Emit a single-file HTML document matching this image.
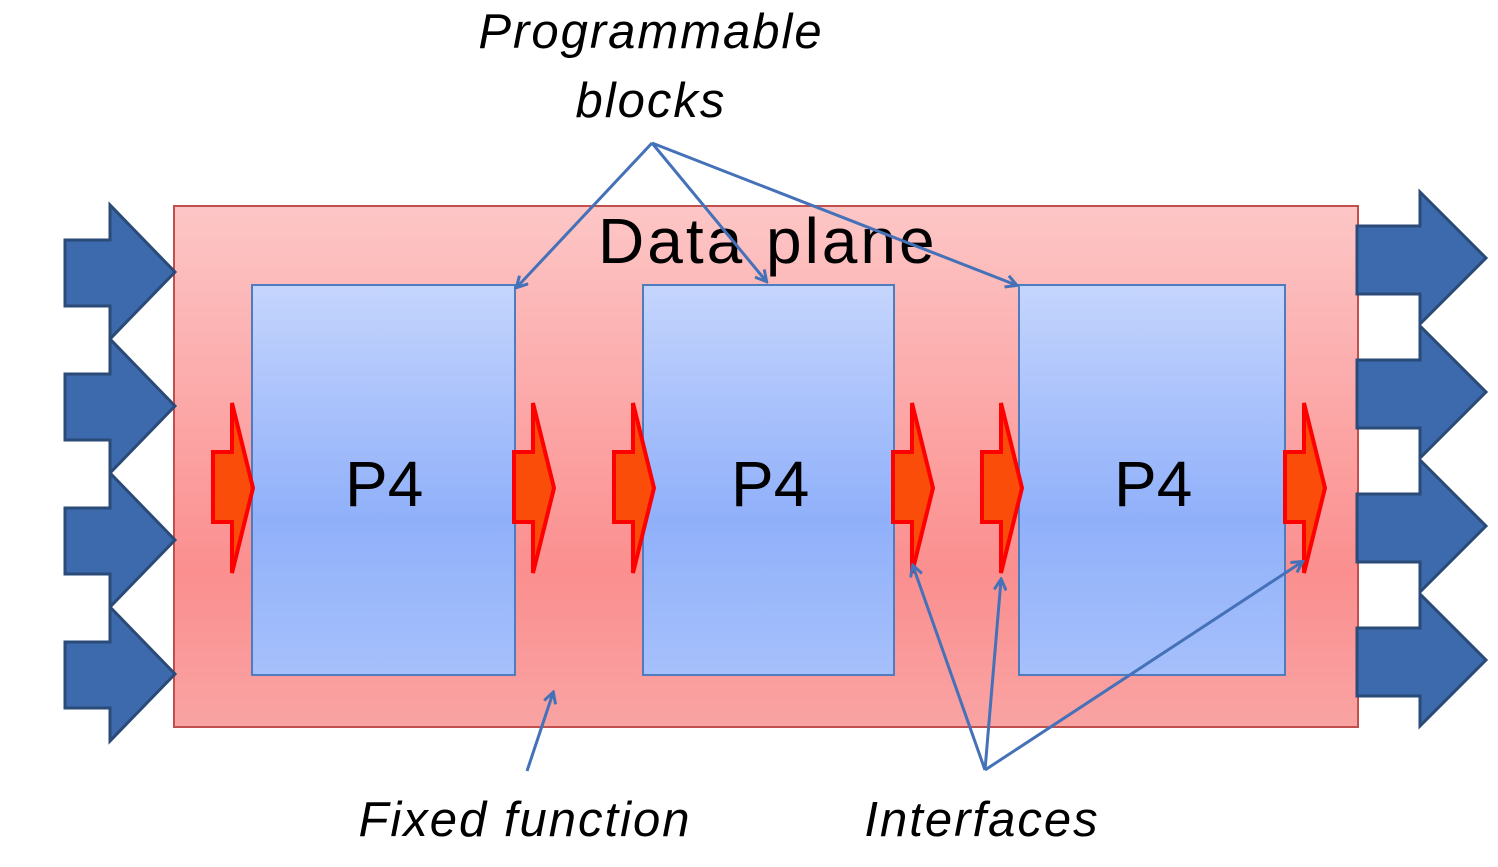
<!DOCTYPE html>
<html><head><style>
body{margin:0;width:1498px;height:862px;background:#fff;overflow:hidden;font-family:"Liberation Sans",sans-serif}
</style></head><body>
<svg width="1498" height="862" viewBox="0 0 1498 862" xmlns="http://www.w3.org/2000/svg">
<defs>
<linearGradient id="rg" x1="0" y1="0" x2="0" y2="1">
<stop offset="0" stop-color="#fdc6c6"/><stop offset="0.7" stop-color="#fb8f8f"/><stop offset="1" stop-color="#f9a3a3"/>
</linearGradient>
<linearGradient id="bg" x1="0" y1="0" x2="0" y2="1">
<stop offset="0" stop-color="#c5d5fd"/><stop offset="0.6" stop-color="#90b0fa"/><stop offset="1" stop-color="#a6c0fb"/>
</linearGradient>
<marker id="ah" markerWidth="14" markerHeight="14" refX="11" refY="7" orient="auto" markerUnits="userSpaceOnUse" viewBox="0 0 14 14">
<path d="M1,1 L12,7 L1,13" fill="none" stroke="#4471b8" stroke-width="3"/>
</marker>
</defs>
<rect x="174" y="206" width="1184" height="521" fill="url(#rg)" stroke="#c0504d" stroke-width="2"/>
<g fill="url(#bg)" stroke="#4f7cbf" stroke-width="2">
<rect x="252" y="285" width="263" height="390"/>
<rect x="643" y="285" width="251" height="390"/>
<rect x="1019" y="285" width="266" height="390"/>
</g>
<g fill="#3d6aac" stroke="#2a4a78" stroke-width="3">
<path d="M65,240 H110 V205 L175,272 L110,339 V306 H65Z"/>
<path d="M65,374 H110 V339 L175,406 L110,473 V440 H65Z"/>
<path d="M65,508 H110 V473 L175,540 L110,607 V574 H65Z"/>
<path d="M65,642 H110 V607 L175,674 L110,741 V708 H65Z"/>
<path d="M1357,226 H1420 V192 L1486,258 L1420,324 V294 H1357Z"/>
<path d="M1357,360 H1420 V326 L1486,392 L1420,458 V428 H1357Z"/>
<path d="M1357,494 H1420 V460 L1486,526 L1420,592 V562 H1357Z"/>
<path d="M1357,628 H1420 V594 L1486,660 L1420,726 V696 H1357Z"/>
</g>
<g fill="#fa4d0a" stroke="#ff0000" stroke-width="4">
<path d="M213,452 H232 V403 L253,488 L232,573 V522 H213Z"/>
<path d="M514,452 H533 V403 L554,488 L533,573 V522 H514Z"/>
<path d="M614,452 H633 V403 L654,488 L633,573 V522 H614Z"/>
<path d="M893,452 H912 V403 L933,488 L912,573 V522 H893Z"/>
<path d="M982,452 H1001 V403 L1022,488 L1001,573 V522 H982Z"/>
<path d="M1285,452 H1304 V403 L1325,488 L1304,573 V522 H1285Z"/>
</g>
<g font-size="64" fill="#000">
<text x="598" y="263" letter-spacing="3">Data plane</text>
<text x="345" y="506">P4</text>
<text x="731" y="506">P4</text>
<text x="1114" y="506">P4</text>
</g>
<g stroke="#4471b8" stroke-width="3" fill="none" marker-end="url(#ah)">
<line x1="652" y1="143" x2="517" y2="287"/>
<line x1="652" y1="143" x2="766" y2="281"/>
<line x1="652" y1="143" x2="1016" y2="285"/>
<line x1="527" y1="771" x2="553" y2="693"/>
<line x1="985" y1="770" x2="913" y2="566"/>
<line x1="985" y1="770" x2="1001" y2="580"/>
<line x1="985" y1="770" x2="1302" y2="562"/>
</g>
<g font-size="49" font-style="italic" fill="#000" letter-spacing="2">
<text x="651" y="48" text-anchor="middle">Programmable</text>
<text x="651" y="117" text-anchor="middle">blocks</text>
<text x="525" y="836" text-anchor="middle">Fixed function</text>
<text x="982" y="836" text-anchor="middle">Interfaces</text>
</g>
</svg>
</body></html>
